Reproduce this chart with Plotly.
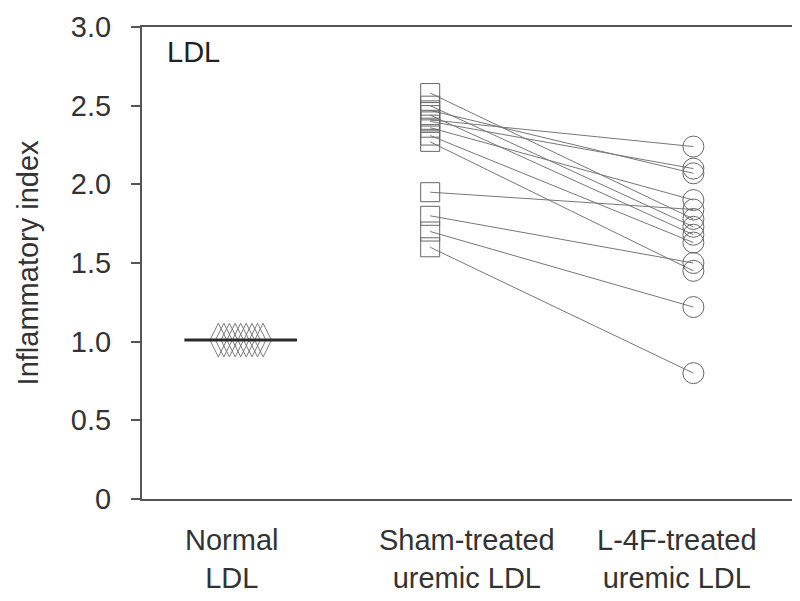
import plotly.graph_objects as go

# ---- data ----
categories = ["Normal<br>LDL", "Sham-treated<br>uremic LDL", "L-4F-treated<br>uremic LDL"]
normal_ldl = [1.01, 1.01, 1.01, 1.01, 1.01, 1.01, 1.01, 1.01, 1.01]
normal_mean = 1.01
sham_uremic = [2.58, 2.50, 2.47, 2.44, 2.41, 2.40, 2.36, 2.31, 2.27, 1.95, 1.80, 1.70, 1.60]
l4f_uremic = [1.78, 1.73, 2.07, 1.68, 2.24, 2.10, 1.90, 1.63, 1.45, 1.84, 1.50, 1.22, 0.80]
y_tickvals = [0, 0.5, 1.0, 1.5, 2.0, 2.5, 3.0]
y_ticktext = ["0", "0.5", "1.0", "1.5", "2.0", "2.5", "3.0"]

# group positions on a numeric x axis
x_normal, x_sham, x_l4f = 1.28, 2.0, 3.0
normal_jitter = [-0.085, -0.064, -0.043, -0.021, 0.0, 0.021, 0.043, 0.064, 0.085]
label_x = [1.246, 2.14, 2.936]

grey = "#666666"
fig = go.Figure()

# paired lines
for a, b in zip(sham_uremic, l4f_uremic):
    fig.add_trace(go.Scatter(x=[x_sham, x_l4f], y=[a, b], mode="lines",
                             line=dict(color="#777777", width=1), hoverinfo="skip", showlegend=False))

# normal diamonds
fig.add_trace(go.Scatter(x=[x_normal + j for j in normal_jitter], y=normal_ldl, mode="markers",
                         marker=dict(symbol="diamond-tall-open", size=24, color="#7a7a7a",
                                     line=dict(width=1, color="#7a7a7a")), showlegend=False))
# mean line
fig.add_trace(go.Scatter(x=[x_normal - 0.214, x_normal + 0.214], y=[normal_mean, normal_mean], mode="lines",
                         line=dict(color="#2a2a2a", width=3), showlegend=False))

# sham squares
fig.add_trace(go.Scatter(x=[x_sham] * len(sham_uremic), y=sham_uremic, mode="markers",
                         marker=dict(symbol="square-open", size=19, color=grey,
                                     line=dict(width=1, color=grey)), showlegend=False))
# L-4F circles
fig.add_trace(go.Scatter(x=[x_l4f] * len(l4f_uremic), y=l4f_uremic, mode="markers",
                         marker=dict(symbol="circle-open", size=21, color=grey,
                                     line=dict(width=1, color=grey)), showlegend=False))

font_fam = "Liberation Sans, Arial, sans-serif"
for lx, lab in zip(label_x, categories):
    fig.add_annotation(x=lx, xref="x", y=-0.048, yref="paper", text=lab, showarrow=False,
                       xanchor="center", yanchor="top", font=dict(size=29, color="#333333", family=font_fam))

fig.add_annotation(x=0.035, xref="paper", y=0.985, yref="paper", text="LDL", showarrow=False,
                   xanchor="left", yanchor="top", font=dict(size=29, color="#222222", family=font_fam))

fig.add_annotation(x=-0.174, xref="paper", y=0.5, yref="paper", text="Inflammatory index",
                   textangle=-90, showarrow=False, xanchor="center", yanchor="middle",
                   font=dict(size=29, color="#333333", family=font_fam))

fig.update_layout(
    width=792, height=593,
    margin=dict(l=134, r=3, t=16, b=102),
    paper_bgcolor="white", plot_bgcolor="white",
    font=dict(family=font_fam, size=29, color="#333333"),
    xaxis=dict(range=[0.905, 3.386], showgrid=False, zeroline=False, showticklabels=False,
               ticks="", showline=True, mirror=True, linecolor="#555555", linewidth=2),
    yaxis=dict(range=[0, 3.0], tickvals=y_tickvals, ticktext=y_ticktext, ticks="outside",
               ticklen=9, tickwidth=1.5, tickcolor="#555555", showgrid=False, zeroline=False,
               showline=True, mirror=True, linecolor="#555555", linewidth=2,
               ticklabelstandoff=14, tickfont=dict(size=29, color="#333333")),
)

fig.write_html("out.html")
